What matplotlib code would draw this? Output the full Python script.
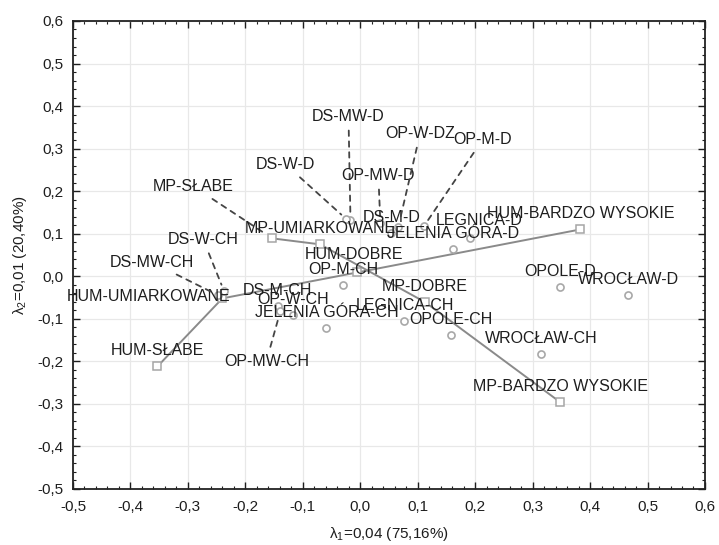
import matplotlib.pyplot as plt
from matplotlib.ticker import MultipleLocator, FuncFormatter

plt.rcParams['font.family'] = ['Liberation Sans', 'DejaVu Sans']

# Punkty wierszy (kwadraty) - kategorie HUM i MP, laczone linia w kolejnosci
hum_etykiety = ["HUM-SŁABE", "HUM-UMIARKOWANE", "HUM-DOBRE", "HUM-BARDZO WYSOKIE"]
hum_x = [-0.353, -0.240, -0.005, 0.383]
hum_y = [-0.212, -0.052, 0.009, 0.110]

mp_etykiety = ["MP-SŁABE", "MP-UMIARKOWANE", "MP-DOBRE", "MP-BARDZO WYSOKIE"]
mp_x = [-0.153, -0.070, 0.113, 0.348]
mp_y = [0.089, 0.075, -0.061, -0.296]

# Punkty kolumn (kolka)
kol_etykiety = ["DS-MW-D", "DS-W-D", "OP-MW-D", "DS-M-D", "OP-W-DZ", "OP-M-D",
                "LEGNICA-D", "JELENIA GÓRA-D", "OPOLE-D", "WROCŁAW-D",
                "DS-W-CH", "DS-MW-CH", "DS-M-CH", "OP-W-CH", "OP-MW-CH", "OP-M-CH",
                "JELENIA GÓRA-CH", "LEGNICA-CH", "OPOLE-CH", "WROCŁAW-CH"]
kol_x = [-0.017, -0.024, 0.035, 0.054, 0.066, 0.111,
         0.191, 0.162, 0.348, 0.466,
         -0.237, -0.247, -0.144, -0.117, -0.139, -0.030,
         -0.059, 0.077, 0.158, 0.315]
kol_y = [0.132, 0.134, 0.125, 0.101, 0.115, 0.118,
         0.089, 0.063, -0.026, -0.045,
         -0.035, -0.045, -0.071, -0.092, -0.082, -0.021,
         -0.122, -0.106, -0.139, -0.183]

# przesuniecia etykiet w pikselach (domyslnie nad punktem)
przesuniecia = {
    "HUM-UMIARKOWANE": (-74, 2),
    "HUM-DOBRE": (-3, 18),
    "MP-SŁABE": (-79, 52),
    "DS-MW-D": (-2, 104),
    "DS-W-D": (-61, 55),
    "OP-MW-D": (-2, 48),
    "OP-W-DZ": (22, 94),
    "OP-M-D": (59, 87),
    "LEGNICA-D": (9, 18),
    "OP-MW-CH": (-14, -50),
    "DS-W-CH": (-21, 52),
    "DS-MW-CH": (-66, 33),
}
# etykiety odsuniete od punktu - z przerywana linia
z_linia = ["MP-SŁABE", "DS-MW-D", "DS-W-D", "OP-MW-D", "OP-W-DZ", "OP-M-D",
           "OP-MW-CH", "DS-W-CH", "DS-MW-CH"]

fig, ax = plt.subplots(figsize=(7.19, 5.45), dpi=100)
fig.subplots_adjust(left=0.1015, right=0.9805, bottom=0.1028, top=0.9615)

# linie laczace kategorie
for xs, ys in [(hum_x, hum_y), (mp_x, mp_y)]:
    ax.plot(xs, ys, color='#8a8a8a', lw=1.4, marker='s', ms=6,
            mfc='white', mec='#a6a6a6', mew=1.1, zorder=3)

ax.scatter(kol_x, kol_y, s=26, facecolors='white', edgecolors='#a8a8a8',
           linewidths=1.2, zorder=3)

# podpisy punktow
wszystkie = list(zip(hum_etykiety, hum_x, hum_y)) + list(zip(mp_etykiety, mp_x, mp_y)) \
    + list(zip(kol_etykiety, kol_x, kol_y))
for etykieta, x, y in wszystkie:
    dx, dy = przesuniecia.get(etykieta, (0, 16))
    strzalka = None
    if etykieta in z_linia:
        strzalka = dict(arrowstyle='-', linestyle=(0, (3, 3)), color='#444444',
                        lw=1.3, shrinkA=3, shrinkB=5)
    ax.annotate(etykieta, xy=(x, y), xytext=(dx, dy), textcoords='offset pixels',
                ha='center', va='center', fontsize=11.5, color='#1e1e1e',
                arrowprops=strzalka, zorder=4)

ax.set_xlim(-0.5, 0.6)
ax.set_ylim(-0.5, 0.6)

przecinek = FuncFormatter(lambda v, p: f"{round(v, 1) + 0.0:.1f}".replace('.', ','))
for os_ in (ax.xaxis, ax.yaxis):
    os_.set_major_locator(MultipleLocator(0.1))
    os_.set_minor_locator(MultipleLocator(0.02))
    os_.set_major_formatter(przecinek)

ax.tick_params(which='both', direction='in', top=True, right=True, labelsize=11,
               colors='#1e1e1e')
ax.tick_params(which='major', length=5, width=1)
ax.tick_params(which='minor', length=2.5, width=0.8)
ax.tick_params(axis='x', pad=8)
ax.tick_params(axis='y', pad=7)

ax.grid(True, which='major', color='#e8e8e8', lw=0.9)
ax.set_axisbelow(True)
for s in ax.spines.values():
    s.set_linewidth(1.3)
    s.set_color('#222222')

ax.set_xlabel('$\\mathregular{λ_1}$=0,04 (75,16%)', fontsize=11, color='#1e1e1e', labelpad=8)
ax.set_ylabel('$\\mathregular{λ_2}$=0,01 (20,40%)', fontsize=11, color='#1e1e1e', labelpad=6)

plt.savefig('out.png')
